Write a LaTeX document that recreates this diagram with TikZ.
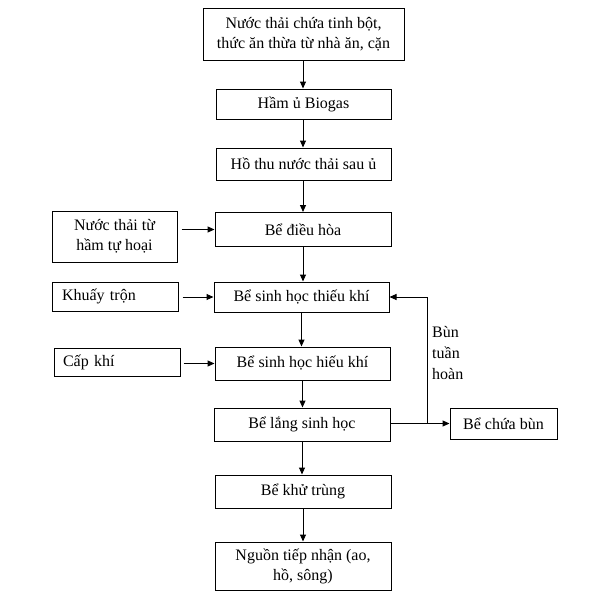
\documentclass[tikz,border=0pt]{standalone}
\usepackage{fontspec}
\setmainfont{Liberation Serif}
\usetikzlibrary{arrows.meta}
\begin{document}
\begin{tikzpicture}[x=1pt,y=-1pt,
  box/.style={draw=black,line width=1pt,inner sep=2pt,align=center,font=\fontsize{16}{20}\selectfont},
  lbox/.style={draw=black,line width=1pt,inner sep=0pt,align=left,font=\fontsize{16}{20}\selectfont},
  arr/.style={line width=1pt,-{Triangle[length=7pt,width=6pt]}},
  lbl/.style={inner sep=0pt,align=left,font=\fontsize{16}{21}\selectfont}]
\useasboundingbox (0,0) rectangle (592,597);
\node[box,minimum width=201pt,minimum height=52pt] (b1) at (303.5,34) {Nước thải chứa tinh bột,\\thức ăn thừa từ nhà ăn, cặn};
\node[box,minimum width=175pt,minimum height=30pt] (b2) at (303.5,104) {Hầm ủ Biogas};
\node[box,minimum width=175pt,minimum height=32pt] (b3) at (303.5,164) {Hồ thu nước thải sau ủ};
\node[box,minimum width=176pt,minimum height=34pt] (b4) at (303,229.5) {Bể điều hòa};
\node[box,minimum width=125pt,minimum height=51pt] (l1) at (114.5,236.5) {Nước thải từ\\hầm tự hoại};
\node[box,minimum width=175pt,minimum height=30pt] (b5) at (301.5,297) {Bể sinh học thiếu khí};
\node[lbox,minimum width=126pt,minimum height=29pt,text width=106pt] (l2) at (115,296.5) {Khuấy trộn};
\node[lbox,minimum width=126pt,minimum height=28pt,text width=108pt] (l3) at (117,362) {Cấp khí};
\node[box,minimum width=175pt,minimum height=33pt] (b6) at (302.5,363.5) {Bể sinh học hiếu khí};
\node[box,minimum width=176pt,minimum height=33pt] (b7) at (302,424.5) {Bể lắng sinh học};
\node[box,minimum width=107pt,minimum height=31pt] (b10) at (503.5,423.5) {Bể chứa bùn};
\node[box,minimum width=176pt,minimum height=33pt] (b8) at (303,491.5) {Bể khử trùng};
\node[box,minimum width=176pt,minimum height=48pt] (b9) at (303,566) {Nguồn tiếp nhận (ao,\\hồ, sông)};
\node[lbl,anchor=north west] (t1) at (432,326) {Bùn\\tuần\\hoàn};
\coordinate (r1) at (427,423.5);
\draw[arr] ([xshift=-0.5pt]b1.south) -- ([xshift=-0.5pt]b1.south |- b2.north);
\draw[arr] ([xshift=-0.5pt]b2.south) -- ([xshift=-0.5pt]b2.south |- b3.north);
\draw[arr] ([xshift=-0.5pt]b3.south) -- ([xshift=-0.5pt]b3.south |- b4.north);
\draw[arr] (b4.south) -- (b4.south |- b5.north);
\draw[arr] (b5.south) -- (b5.south |- b6.north);
\draw[arr] (b6.south) -- (b6.south |- b7.north);
\draw[arr] (b7.south) -- (b7.south |- b8.north);
\draw[arr] (b8.south) -- (b8.south |- b9.north);
\draw[arr,shorten <=4pt] (l1.east |- b4.west) -- (b4.west);
\draw[arr,shorten <=4pt] (l2.east |- b5.west) -- (b5.west);
\draw[arr,shorten <=3pt] (l3.east |- b6.west) -- (b6.west);
\draw[arr] (b7.east |- b10.west) -- (b10.west);
\draw[arr] (r1) |- (b5.east);
\end{tikzpicture}
\end{document}
